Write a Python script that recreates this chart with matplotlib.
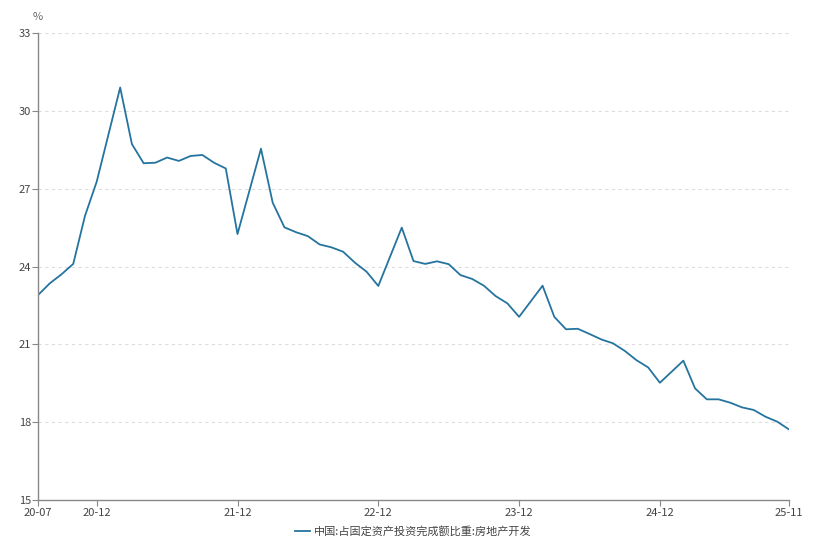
import matplotlib
matplotlib.use("Agg")
import matplotlib.pyplot as plt

plt.rcParams["font.family"] = ["Noto Sans CJK SC", "DejaVu Sans"]

# monthly observations (January not published, Jan-Feb merged)
months = [
    "2020-07", "2020-08", "2020-09", "2020-10", "2020-11", "2020-12",
    "2021-02", "2021-03", "2021-04", "2021-05", "2021-06", "2021-07", "2021-08",
    "2021-09", "2021-10", "2021-11", "2021-12",
    "2022-02", "2022-03", "2022-04", "2022-05", "2022-06", "2022-07", "2022-08",
    "2022-09", "2022-10", "2022-11", "2022-12",
    "2023-02", "2023-03", "2023-04", "2023-05", "2023-06", "2023-07", "2023-08",
    "2023-09", "2023-10", "2023-11", "2023-12",
    "2024-02", "2024-03", "2024-04", "2024-05", "2024-06", "2024-07", "2024-08",
    "2024-09", "2024-10", "2024-11", "2024-12",
    "2025-02", "2025-03", "2025-04", "2025-05", "2025-06", "2025-07", "2025-08",
    "2025-09", "2025-10", "2025-11",
]
share = [
    22.90, 23.35, 23.70, 24.10, 25.95, 27.27,
    30.90, 28.72, 27.98, 28.00, 28.20, 28.07, 28.26,
    28.30, 28.00, 27.78, 25.25,
    28.54, 26.46, 25.51, 25.32, 25.17, 24.85, 24.74,
    24.57, 24.15, 23.80, 23.25,
    25.50, 24.21, 24.10, 24.20, 24.09, 23.67, 23.52,
    23.26, 22.86, 22.58, 22.06,
    23.26, 22.06, 21.58, 21.60, 21.40, 21.19, 21.04,
    20.75, 20.39, 20.11, 19.52,
    20.37, 19.30, 18.88, 18.88, 18.75, 18.57, 18.47,
    18.21, 18.02, 17.72,
]
tick_months = ["2020-07", "2020-12", "2021-12", "2022-12", "2023-12", "2024-12", "2025-11"]
tick_labels = ["20-07", "20-12", "21-12", "22-12", "23-12", "24-12", "25-11"]
y_ticks = [15, 18, 21, 24, 27, 30, 33]
series_name = "中国:占固定资产投资完成额比重:房地产开发"


def month_index(ym):
    y, m = ym.split("-")
    return (int(y) - 2020) * 12 + int(m) - 7


x = [month_index(m) for m in months]
tick_pos = [month_index(m) for m in tick_months]

fig = plt.figure(figsize=(8.27, 5.43), dpi=100)
ax = fig.add_axes([0.046, 0.0792, 0.908, 0.8600])

ax.plot(x, share, color="#25749f", lw=1.3, label=series_name)

ax.set_xlim(tick_pos[0], tick_pos[-1])
ax.set_ylim(15, 33)
ax.set_yticks(y_ticks)
ax.set_xticks(tick_pos)
ax.set_xticklabels(tick_labels)

ax.grid(axis="y", color="#dddddd", linestyle=(0, (3, 3)), lw=0.8)
ax.set_axisbelow(True)
for side in ("top", "right"):
    ax.spines[side].set_visible(False)
for side in ("left", "bottom"):
    ax.spines[side].set_color("#888888")
    ax.spines[side].set_linewidth(1.0)
ax.tick_params(axis="both", colors="#888888", labelcolor="#444444",
               labelsize=8, length=4, width=0.8)
ax.tick_params(axis="y", pad=1)
ax.tick_params(axis="x", pad=2)

fig.text(0.046, 0.968, "%", ha="center", va="center", fontsize=8, color="#666666")

ax.legend(loc="upper center", bbox_to_anchor=(0.5, -0.035), frameon=False,
          fontsize=8, handlelength=1.3, handletextpad=0.4, labelcolor="#444444")

fig.savefig("out.png", dpi=100)
